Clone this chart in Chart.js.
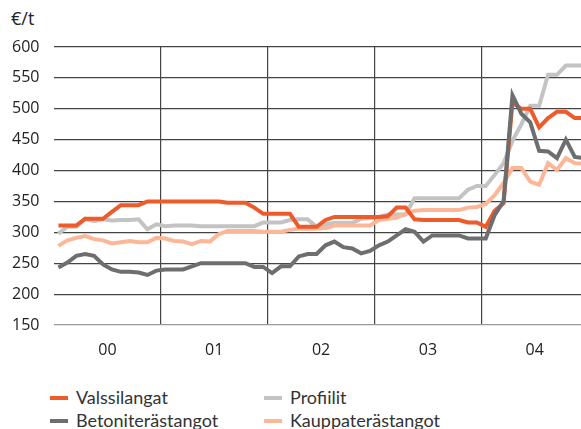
<!DOCTYPE html>
<html><head><meta charset="utf-8">
<script src="https://cdn.jsdelivr.net/npm/chart.js@4"></script>
<style>
html,body{margin:0;padding:0;background:#fff;overflow:hidden;width:581px;height:429px;}
#wrap{position:absolute;left:0;top:0;width:581px;height:372px;}
#unit{position:absolute;left:11px;top:6px;font:18px 'Open Sans';color:#222;}
.sw{position:absolute;width:18px;height:4px;}
.lt{position:absolute;font:18px Lato;color:#333;line-height:20px;white-space:nowrap;}
</style></head>
<body>
<div id="unit">€/t</div>
<div id="wrap"><canvas id="c" width="581" height="372"></canvas></div>
<div class="sw" style="left:50px;top:396px;background:#EE5A2A"></div>
<div class="lt" style="left:76px;top:387px">Valssilangat</div>
<div class="sw" style="left:50px;top:419px;background:#6D6E70"></div>
<div class="lt" style="left:76px;top:410px">Betoniterästangot</div>
<div class="sw" style="left:264px;top:396px;background:#C3C3C3"></div>
<div class="lt" style="left:290px;top:387px">Profiilit</div>
<div class="sw" style="left:264px;top:419px;background:#FBB797"></div>
<div class="lt" style="left:290px;top:410px">Kauppaterästangot</div>
<script>
const yearLabels = ['00','01','02','03','04'];
const yTicks = [150,200,250,300,350,400,450,500,550,600];
const valssilangat = [311,311,311,322,322,322,333,344,344,344,350,350,
  350,350,350,350,350,350,350,348,348,348,340,330,
  330,330,330,309,309,309,320,325,325,325,325,325,
  325,326,340,340,321,320,320,320,320,320,316,316,
  309,335,347,510,500,500,470,485,495,495,485,485];
const betoniterastangot = [243,251,262,265,262,248,240,236,236,235,231,238,
  240,240,240,245,250,250,250,250,250,250,244,244,
  234,245,245,261,265,265,279,285,276,274,266,270,
  279,285,295,305,301,285,295,295,295,295,290,290,
  290,328,350,522,492,478,432,431,420,450,422,420];
const profiilit = [298,309,309,322,318,321,319,320,320,321,305,313,
  310,311,311,311,310,310,310,310,310,310,310,316,
  316,316,320,321,321,309,313,315,315,315,322,323,
  325,329,329,329,355,355,355,355,355,355,369,375,
  375,393,412,448,475,505,505,555,555,570,570,570];
const kauppaterastangot = [278,287,291,294,289,287,282,284,286,284,284,291,
  290,286,285,281,286,285,297,302,302,302,302,301,
  301,301,304,306,306,306,307,311,311,311,311,311,
  320,322,324,330,335,336,336,336,336,336,340,341,
  346,360,380,404,404,382,377,412,401,420,412,411];

const pts = arr => arr.map((v,i)=>({x:i+0.5,y:v}));
const ds = (label,data,color,order)=>({label,data:pts(data),borderColor:color,backgroundColor:color,
  borderWidth:4,pointRadius:0,tension:0,fill:false,order});

new Chart(document.getElementById('c'),{
  type:'line',
  data:{datasets:[
    ds('Betoniterästangot',betoniterastangot,'#6D6E70',0),
    ds('Valssilangat',valssilangat,'#EE5A2A',1),
    ds('Kauppaterästangot',kauppaterastangot,'#FBB797',2),
    ds('Profiilit',profiilit,'#C3C3C3',3)
  ]},
  options:{
    responsive:false,animation:false,
    layout:{padding:{left:12,top:47,right:0,bottom:0}},
    plugins:{legend:{display:false},tooltip:{enabled:false}},
    scales:{
      x:{type:'linear',min:0,max:59.2,
        afterBuildTicks:s=>{s.ticks=[6,12,18,24,30,36,42,48,54].map(v=>({value:v}));},
        afterFit:s=>{s.height=47;},
        border:{display:false},
        grid:{drawTicks:false,lineWidth:1.2,color:c=>(c.tick&&c.tick.value%12===0)?'#444':'rgba(0,0,0,0)'},
        ticks:{autoSkip:false,maxRotation:0,padding:16,color:'#222',font:{family:'Open Sans',size:16},
          callback:v=>v%12===6?yearLabels[(v-6)/12]:''}
      },
      y:{min:150,max:600,
        afterBuildTicks:s=>{s.ticks=yTicks.map(v=>({value:v}));},
        afterFit:s=>{s.width=42;},
        border:{display:false},
        grid:{drawTicks:false,lineWidth:1.2,color:c=>c.tick&&c.tick.value===150?'#999':'#444'},
        ticks:{crossAlign:'far',padding:0,color:'#222',font:{family:'Open Sans',size:16}}
      }
    }
  }
});
</script>
</body></html>
